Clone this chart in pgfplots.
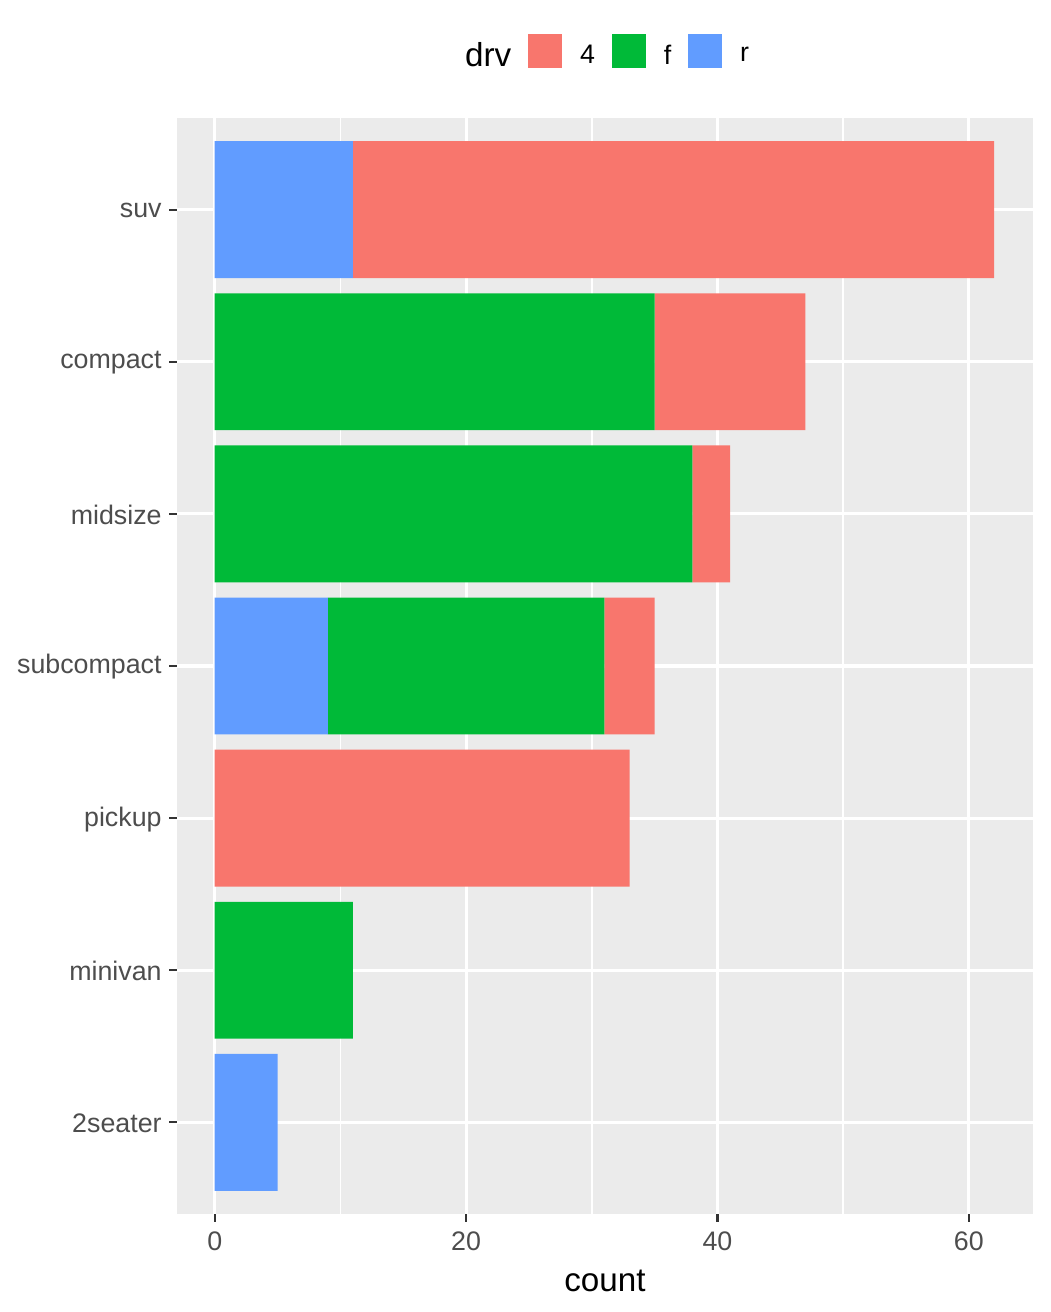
\documentclass[border=0pt]{standalone}
\usepackage{pgfplots}
\pgfplotsset{compat=1.18}
\usepackage{fontspec}
\setmainfont{Liberation Sans}
\definecolor{c4}{HTML}{F8766D}
\definecolor{cf}{HTML}{00BA38}
\definecolor{cr}{HTML}{619CFF}
\definecolor{panel}{HTML}{EBEBEB}
\definecolor{tickc}{HTML}{333333}
\definecolor{labc}{HTML}{4D4D4D}
\begin{document}
\begin{tikzpicture}
  \path[use as bounding box] (0,0) rectangle (525pt,656pt);
  \begin{axis}[
    at={(88.5pt,49.2pt)}, anchor=south west,
    scale only axis,
    width=428pt, height=547.6pt,
    xbar stacked,
    bar width=0.9,
    axis background/.style={fill=panel},
    axis line style={draw=none},
    % x-axis
    xmin=-3.0, xmax=65.1,
    xtick={0,20,40,60},
    minor xtick={10,30,50},
    xmajorgrids=true, xminorgrids=true,
    xlabel={count},
    xlabel style={font=\fontsize{16.6}{20}\selectfont, color=black, yshift=-3pt},
    % y-axis
    ymin=0.4, ymax=7.6,
    ytick={1,2,3,4,5,6,7},
    yticklabels={2seater,minivan,pickup,subcompact,midsize,compact,suv},
    ymajorgrids=true,
    major grid style={white, line width=1.6pt},
    minor grid style={white, line width=0.8pt},
    tick pos=left,
    tick align=outside,
    major tick length=4pt,
    minor tick length=0pt,
    tick style={color=tickc, line width=1.1pt},
    every tick label/.append style={font=\fontsize{13.4}{16}\selectfont, color=labc},
    /pgf/number format/assume math mode=true,
    yticklabel style={inner xsep=3.5pt, yshift=-0.5pt},
    xticklabel style={yshift=-1.5pt},
    legend columns=-1,
    legend style={at={(0.3152,1.0589)}, anchor=west, draw=none, fill=none,
      inner sep=0pt,
      nodes={inner xsep=0pt, font=\fontsize{13.4}{16}\selectfont},
      /tikz/every odd column/.append style={column sep=9pt},
      /tikz/every even column/.append style={column sep=8.5pt}},
    ]
    \addlegendimage{empty legend}
    \addlegendentry{\fontsize{16.6}{20}\selectfont drv}
    \addlegendimage{legend image code/.code={\fill[c4] (0pt,-6pt) rectangle (16.5pt,10.5pt);}}
    \addlegendentry{4}
    \addlegendimage{legend image code/.code={\fill[cf] (0pt,-6pt) rectangle (16.5pt,10.5pt);}}
    \addlegendentry{f}
    \addlegendimage{legend image code/.code={\fill[cr] (0pt,-6pt) rectangle (16.5pt,10.5pt);}}
    \addlegendentry{r}

    % 1=2seater 2=minivan 3=pickup 4=subcompact 5=midsize 6=compact 7=suv
    \addplot [fill=cr, draw=none, forget plot] coordinates {
      (5,1) (0,2) (0,3) (9,4) (0,5) (0,6) (11,7)
    };
    \addplot [fill=cf, draw=none, forget plot] coordinates {
      (0,1) (11,2) (0,3) (22,4) (38,5) (35,6) (0,7)
    };
    \addplot [fill=c4, draw=none, forget plot] coordinates {
      (0,1) (0,2) (33,3) (4,4) (3,5) (12,6) (51,7)
    };
  \end{axis}
\end{tikzpicture}
\end{document}
